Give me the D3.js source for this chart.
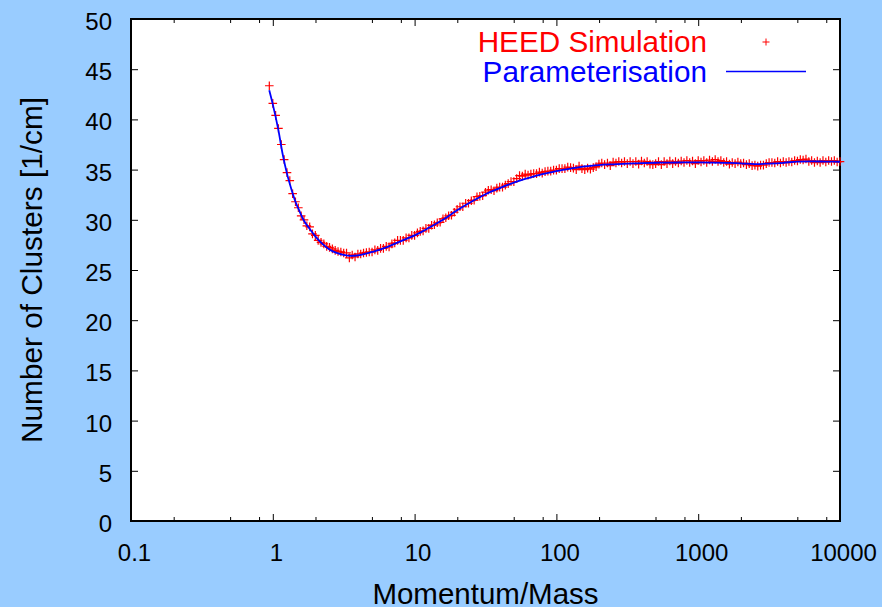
<!DOCTYPE html>
<html><head><meta charset="utf-8">
<script src="https://cdn.jsdelivr.net/npm/d3@7"></script>
<style>
html,body{margin:0;padding:0;background:#99ccff;}
svg{display:block;font-family:"Liberation Sans",Arial,Helvetica,sans-serif;}
</style></head>
<body>
<svg id="chart" width="882" height="607"></svg>
<script>
// ---- data ----
const simX = [0.945,1.00,1.047,1.096,1.148,1.202,1.259,1.318,1.380,1.445,1.514,1.585,1.660,1.738,1.820,1.905,1.995,2.089,2.188,2.291,
2.399,2.512,2.630,2.754,2.884,3.020,3.162,3.311,3.467,3.631,3.802,3.981,4.169,4.365,4.571,4.786,5.012,5.248,5.495,5.754,
6.026,6.310,6.607,6.918,7.244,7.586,7.943,8.318,8.710,9.120,9.550,10.0,10.47,10.96,11.48,12.02,12.59,13.18,13.80,14.45,
15.14,15.85,16.60,17.38,18.20,19.05,19.95,20.89,21.88,22.91,23.99,25.12,26.30,27.54,28.84,30.20,31.62,33.11,34.67,36.31,
38.02,39.81,41.69,43.65,45.71,47.86,50.12,52.48,54.95,57.54,60.26,63.10,66.07,69.18,72.44,75.86,79.43,83.18,87.10,91.20,
95.50,100,104.7,109.6,114.8,120.2,125.9,131.8,138.0,144.5,151.4,158.5,166.0,173.8,182.0,190.5,199.5,208.9,218.8,229.1,
239.9,251.2,263.0,275.4,288.4,302.0,316.2,331.1,346.7,363.1,380.2,398.1,416.9,436.5,457.1,478.6,501.2,524.8,549.5,575.4,
602.6,631.0,660.7,691.8,724.4,758.6,794.3,831.8,871.0,912.0,955.0,1000,1047,1096,1148,1202,1259,1318,1380,1445,
1514,1585,1660,1738,1820,1905,1995,2089,2188,2291,2399,2512,2630,2754,2884,3020,3162,3311,3467,3631,
3802,3981,4169,4365,4571,4786,5012,5248,5495,5754,6026,6310,6607,6918,7244,7586,7943,8318,8710,9120,
9550,10000];
const simY = [43.35,41.6,40.4,39.1,37.5,36.0,34.7,33.9,32.6,31.8,31.2,30.4,30.0,29.4,29.3,28.6,28.45,27.95,27.75,27.6,
27.35,27.25,27.1,26.95,26.85,26.8,26.7,26.7,26.2,26.5,26.3,26.6,26.6,26.7,26.75,26.8,26.8,27.0,26.95,27.15,
27.15,27.35,27.3,27.6,27.7,27.95,27.95,27.95,28.2,28.2,28.45,28.45,28.7,28.85,28.9,29.15,29.15,29.45,29.5,29.7,
29.75,30.1,30.2,30.4,30.45,30.75,31.05,31.3,31.3,31.65,31.65,31.9,31.95,32.3,32.35,32.4,32.75,32.95,33.0,32.9,
33.15,33.25,33.25,33.45,33.6,33.8,33.8,34.1,34.4,34.35,34.55,34.45,34.55,34.6,34.6,34.75,34.65,34.8,34.85,34.85,
34.95,34.95,35.1,35.1,35.1,35.25,35.2,35.15,35.0,35.35,35.1,35.0,35.15,35.05,35.2,35.3,35.55,35.65,35.5,35.65,
35.4,35.75,35.65,35.8,35.65,35.8,35.6,35.8,35.6,35.8,35.55,35.85,35.65,35.8,35.55,35.5,35.6,35.8,35.5,35.8,
35.6,35.85,35.6,35.8,35.65,35.85,35.7,35.9,35.7,35.85,35.6,35.9,35.75,35.9,35.7,35.95,35.8,36.0,35.8,35.9,
35.7,35.8,35.55,35.7,35.6,35.75,35.6,35.65,35.5,35.6,35.4,35.45,35.35,35.45,35.45,35.6,35.7,35.7,35.65,35.8,
35.65,35.8,35.7,35.8,35.75,35.9,35.85,36.0,35.95,36.05,35.8,35.9,35.7,35.85,35.7,35.9,35.75,35.9,35.8,35.9,
35.75,35.8];

const parX = [0.944,1.0,1.096,1.175,1.259,1.349,1.445,1.549,1.660,1.820,1.995,2.239,2.512,2.818,3.162,3.548,3.981,4.467,5.012,5.623,
6.310,7.079,7.943,8.913,10,11.22,12.59,15.85,19.95,25.12,31.62,39.81,50.12,63.10,79.43,100,125.9,158.5,199.5,251.2,
316.2,398.1,501.2,631.0,794.3,1000,1259,1585,1995,2512,3162,3981,5012,6310,7943,10000];
const parY = [42.9,41.5,38.9,36.5,34.6,33.1,31.8,30.8,29.9,29.1,28.35,27.6,27.05,26.7,26.5,26.4,26.45,26.6,26.8,27.0,
27.25,27.55,27.85,28.15,28.45,28.8,29.2,30.0,30.95,31.8,32.55,33.15,33.7,34.15,34.55,34.85,35.1,35.32,35.45,35.53,
35.6,35.65,35.68,35.7,35.71,35.71,35.7,35.67,35.63,35.55,35.6,35.68,35.8,35.82,35.8,35.78];

const xMajorTicks = [0.1,1,10,100,1000,10000];
const xTickLabels = ["0.1","1","10","100","1000","10000"];
const xMinorTicks = [0.2,0.5,0.8,2,5,8,20,50,80,200,500,800,2000,5000,8000];
const yTicks = [0,5,10,15,20,25,30,35,40,45,50];
const legendLabels = ["HEED Simulation","Parameterisation"];
const xTitle = "Momentum/Mass";
const yTitle = "Number of Clusters [1/cm]";

// ---- layout ----
const L = 131, R = 840, T = 19, B = 521;
const svg = d3.select("#chart");
svg.append("rect").attr("width",882).attr("height",607).attr("fill","#99ccff");
svg.append("rect").attr("x",L).attr("y",T).attr("width",R-L).attr("height",B-T).attr("fill","#fff");

const x = d3.scaleLog().domain([0.1,10000]).range([L,R]);
const y = d3.scaleLinear().domain([0,50]).range([B,T]);

const fontSize = 24;
function styleAxis(g){
  g.select(".domain").remove();
  g.selectAll(".tick line").attr("stroke","#000").attr("stroke-width",1);
  g.selectAll(".tick text").attr("fill","#000").style("font-size",fontSize+"px").attr("font-family",null);
}
// bottom major
svg.append("g").attr("transform",`translate(0,${B})`)
  .call(d3.axisBottom(x).tickValues(xMajorTicks).tickFormat((d,i)=>xTickLabels[i]).tickSize(-7).tickPadding(23))
  .call(styleAxis)
  .call(g=>g.selectAll(".tick text").attr("dx","3"));
// bottom minor
svg.append("g").attr("transform",`translate(0,${B})`)
  .call(d3.axisBottom(x).tickValues(xMinorTicks).tickFormat("").tickSize(-4))
  .call(styleAxis);
// top major / minor
svg.append("g").attr("transform",`translate(0,${T})`)
  .call(d3.axisTop(x).tickValues(xMajorTicks).tickFormat("").tickSize(-7))
  .call(styleAxis);
svg.append("g").attr("transform",`translate(0,${T})`)
  .call(d3.axisTop(x).tickValues(xMinorTicks).tickFormat("").tickSize(-4))
  .call(styleAxis);
// left
svg.append("g").attr("transform",`translate(${L},0)`)
  .call(d3.axisLeft(y).tickValues(yTicks).tickFormat(d3.format("d")).tickSize(-7).tickPadding(19))
  .call(styleAxis)
  .call(g=>g.selectAll(".tick text").attr("dy","0.44em"));
// right
svg.append("g").attr("transform",`translate(${R},0)`)
  .call(d3.axisRight(y).tickValues(yTicks).tickFormat("").tickSize(-7))
  .call(styleAxis);

// frame
svg.append("rect").attr("x",L).attr("y",T).attr("width",R-L).attr("height",B-T)
  .attr("fill","none").attr("stroke","#000").attr("stroke-width",2);

// simulation markers
const plus = (cx,cy,s)=>`M${cx-s},${cy}H${cx+s}M${cx},${cy-s}V${cy+s}`;
const sim = simX.map((d,i)=>[d,simY[i]]);
svg.append("path")
  .attr("d", sim.map(d=>plus(x(d[0]),y(d[1]),4.3)).join(""))
  .attr("stroke","#ff0000").attr("stroke-width",1.2).attr("fill","none");

// parameterisation line
const par = parX.map((d,i)=>[d,parY[i]]);
svg.append("path").datum(par)
  .attr("d", d3.line().x(d=>x(d[0])).y(d=>y(d[1])).curve(d3.curveMonotoneX))
  .attr("fill","none").attr("stroke","#0000ff").attr("stroke-width",1.8);

// legend
const lg = svg.append("g").style("font-size","29.7px");
lg.append("text").attr("x",707).attr("y",52).attr("text-anchor","end").attr("fill","#ff0000").text(legendLabels[0]);
lg.append("path").attr("d",plus(766,42,3.5)).attr("stroke","#ff0000").attr("stroke-width",1);
lg.append("text").attr("x",707).attr("y",82).attr("text-anchor","end").attr("fill","#0000ff").text(legendLabels[1]);
lg.append("line").attr("x1",726).attr("x2",806).attr("y1",71.5).attr("y2",71.5).attr("stroke","#0000ff").attr("stroke-width",1.5);

// axis titles
svg.append("text").attr("x",(L+R)/2).attr("y",604).attr("text-anchor","middle")
  .style("font-size","29.5px").attr("fill","#000").text(xTitle);
svg.append("text").attr("transform",`translate(41.5,${(T+B)/2}) rotate(-90)`).attr("text-anchor","middle")
  .style("font-size","29.8px").attr("fill","#000").text(yTitle);
</script>
</body></html>
